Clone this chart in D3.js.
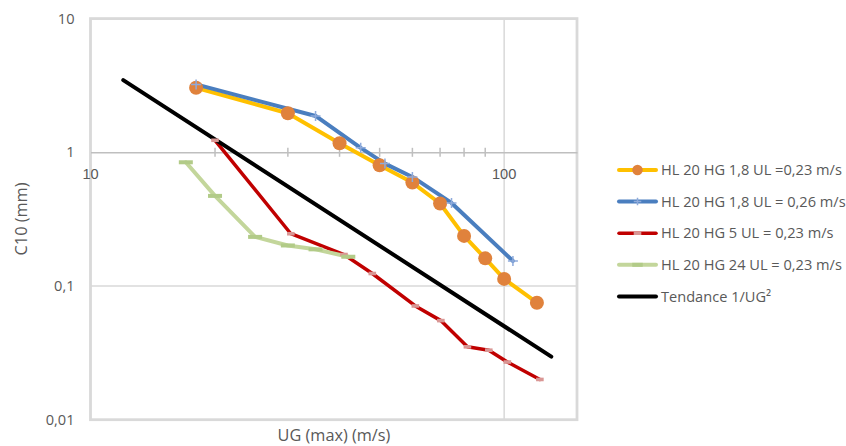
<!DOCTYPE html>
<html>
<head>
<meta charset="utf-8">
<script src="https://cdn.jsdelivr.net/npm/d3@7"></script>
<style>
  html, body { margin: 0; padding: 0; background: #fff; }
  svg { display: block; font-family: "Open Sans", "Noto Sans", sans-serif; }
</style>
</head>
<body>
<svg id="chart" width="846" height="446"></svg>
<script>
// ---- data ----
const ugOrange  = [18, 30, 40, 50, 60, 70, 80, 90, 100, 120];
const c10Orange = [3.04, 1.96, 1.17, 0.80, 0.594, 0.414, 0.237, 0.161, 0.113, 0.075];

const ugBlue  = [18, 35, 45, 51.5, 60, 74.6, 105];
const c10Blue = [3.22, 1.87, 1.08, 0.823, 0.654, 0.418, 0.154];

const ugRed  = [20, 30.5, 41, 48, 61, 70.3, 81.5, 91.8, 101.8, 122];
const c10Red = [1.23, 0.246, 0.172, 0.124, 0.0709, 0.0551, 0.0351, 0.0331, 0.027, 0.020];

const ugGreen  = [17, 20, 25, 30, 35, 42];
const c10Green = [0.842, 0.472, 0.233, 0.201, 0.188, 0.1655];

const ugTrend  = [12, 130];
const c10Trend = [3.47, 0.0296];

const seriesNames = [
  "HL 20 HG 1,8 UL =0,23 m/s",
  "HL 20 HG 1,8 UL = 0,26 m/s",
  "HL 20 HG 5 UL = 0,23 m/s",
  "HL 20 HG 24 UL = 0,23 m/s",
  "Tendance 1/UG\u00B2"
];
const xTickValues = [10, 100];
const xTickLabels = ["10", "100"];
const xMinorTicks = [20, 30, 40, 50, 60, 70, 80, 90];
const yTickValues = [10, 1, 0.1, 0.01];
const yTickLabels = ["10", "1", "0,1", "0,01"];
const xTitle = "UG (max) (m/s)";
const yTitle = "C10 (mm)";

// ---- layout ----
const svg = d3.select("#chart");
const L = 90.5, R = 577, T = 18.6, B = 419.7;
const x = d3.scaleLog().domain([10, 150]).range([L, R]);
const y = d3.scaleLog().domain([0.01, 10]).range([B, T]);

const grid = "#d9d9d9", textCol = "#595959";

// gridlines
svg.append("g").selectAll("line").data([0.1]).join("line")
  .attr("x1", L).attr("x2", R).attr("y1", d => y(d)).attr("y2", d => y(d))
  .attr("stroke", grid).attr("stroke-width", 1.5);
svg.append("g").selectAll("line").data([100]).join("line")
  .attr("x1", d => x(d)).attr("x2", d => x(d)).attr("y1", T).attr("y2", B)
  .attr("stroke", grid).attr("stroke-width", 1.5);

// plot border
svg.append("rect").attr("x", L).attr("y", T).attr("width", R - L).attr("height", B - T)
  .attr("fill", "none").attr("stroke", grid).attr("stroke-width", 2.8);

// x axis crossing at y = 1
const xAxisG = svg.append("g").attr("transform", `translate(0,${y(1)})`);
xAxisG.call(d3.axisBottom(x).tickValues(xMinorTicks).tickSize(0).tickFormat(""));
xAxisG.select(".domain").attr("stroke", "#bfbfbf").attr("stroke-width", 1.5);
xAxisG.selectAll(".minor").data(xMinorTicks).join("line").attr("class", "minor")
  .attr("x1", d => x(d)).attr("x2", d => x(d)).attr("y1", -4.5).attr("y2", 4.5)
  .attr("stroke", "#bfbfbf").attr("stroke-width", 1.5);
xAxisG.selectAll(".xlab").data(xTickValues).join("text").attr("class", "xlab")
  .attr("x", d => x(d)).attr("y", 27)
  .attr("text-anchor", "middle").attr("fill", textCol).attr("font-size", 14.6)
  .text((d, i) => xTickLabels[i]);

// y axis labels
const yAxisG = svg.append("g").attr("transform", `translate(${L},0)`);
yAxisG.call(d3.axisLeft(y).tickValues(yTickValues).tickSize(0)
  .tickPadding(16).tickFormat((d, i) => yTickLabels[i]));
yAxisG.select(".domain").remove();
yAxisG.selectAll("text").attr("fill", textCol).attr("font-size", 14.6)
  .attr("font-family", "Open Sans, Noto Sans, sans-serif");

// axis titles
svg.append("text").attr("x", 334).attr("y", 441).attr("text-anchor", "middle")
  .attr("fill", textCol).attr("font-size", 16.3).text(xTitle);
svg.append("text").attr("transform", "translate(27,219) rotate(-90)")
  .attr("text-anchor", "middle").attr("fill", textCol).attr("font-size", 16.3).text(yTitle);

// series
const line = d3.line().x(d => x(d[0])).y(d => y(d[1]));
const zip = (a, b) => a.map((v, i) => [v, b[i]]);
const series = [
  { pts: zip(ugOrange, c10Orange), stroke: "#ffc000", w: 4, marker: "circle", mfill: "#e0823c" },
  { pts: zip(ugBlue, c10Blue), stroke: "#4a7ebf", w: 4, marker: "plus", mfill: "#8eaadb" },
  { pts: zip(ugRed, c10Red), stroke: "#c00000", w: 3.5, marker: "rect", mfill: "#d99694" },
  { pts: zip(ugGreen, c10Green), stroke: "#c3d69b", w: 4, marker: "dash", mfill: "#b2cb88" },
  { pts: zip(ugTrend, c10Trend), stroke: "#000000", w: 4, marker: null }
];

const linesG = svg.append("g");
series.forEach(s => {
  linesG.append("path").datum(s.pts).attr("d", line)
    .attr("fill", "none").attr("stroke", s.stroke).attr("stroke-width", s.w)
    .attr("stroke-linejoin", "round").attr("stroke-linecap", "round");
});

function drawMarker(g, type, cx, cy, fill, scale) {
  scale = scale || 1;
  if (type === "circle") {
    g.append("circle").attr("cx", cx).attr("cy", cy).attr("r", 7 * scale).attr("fill", fill);
  } else if (type === "plus") {
    const h = 5 * scale;
    g.append("path").attr("d", `M${cx - h},${cy}H${cx + h}M${cx},${cy - h}V${cy + h}`)
      .attr("stroke", fill).attr("stroke-width", 1.5).attr("fill", "none");
  } else if (type === "rect") {
    g.append("rect").attr("x", cx - 3.8).attr("y", cy - 1.8).attr("width", 7.6).attr("height", 3.6)
      .attr("fill", fill);
  } else if (type === "dash") {
    g.append("rect").attr("x", cx - 7 * scale).attr("y", cy - 2).attr("width", 14 * scale).attr("height", 4)
      .attr("fill", fill);
  }
}
const markG = svg.append("g");
series.forEach(s => {
  if (!s.marker) return;
  s.pts.forEach(p => drawMarker(markG, s.marker, x(p[0]), y(p[1]), s.mfill));
});

// legend
const legY0 = 170, legDY = 31.6;
const legG = svg.append("g");
series.forEach((s, i) => {
  const ly = legY0 + i * legDY;
  legG.append("line").attr("x1", 619).attr("x2", 656).attr("y1", ly).attr("y2", ly)
    .attr("stroke", s.stroke).attr("stroke-width", s.w).attr("stroke-linecap", "round");
  if (s.marker) drawMarker(legG, s.marker, 637.5, ly, s.mfill, 0.75);
  legG.append("text").attr("x", 661).attr("y", ly).attr("dy", "0.35em")
    .attr("fill", textCol).attr("font-size", 14.6).text(seriesNames[i]);
});
</script>
</body>
</html>
